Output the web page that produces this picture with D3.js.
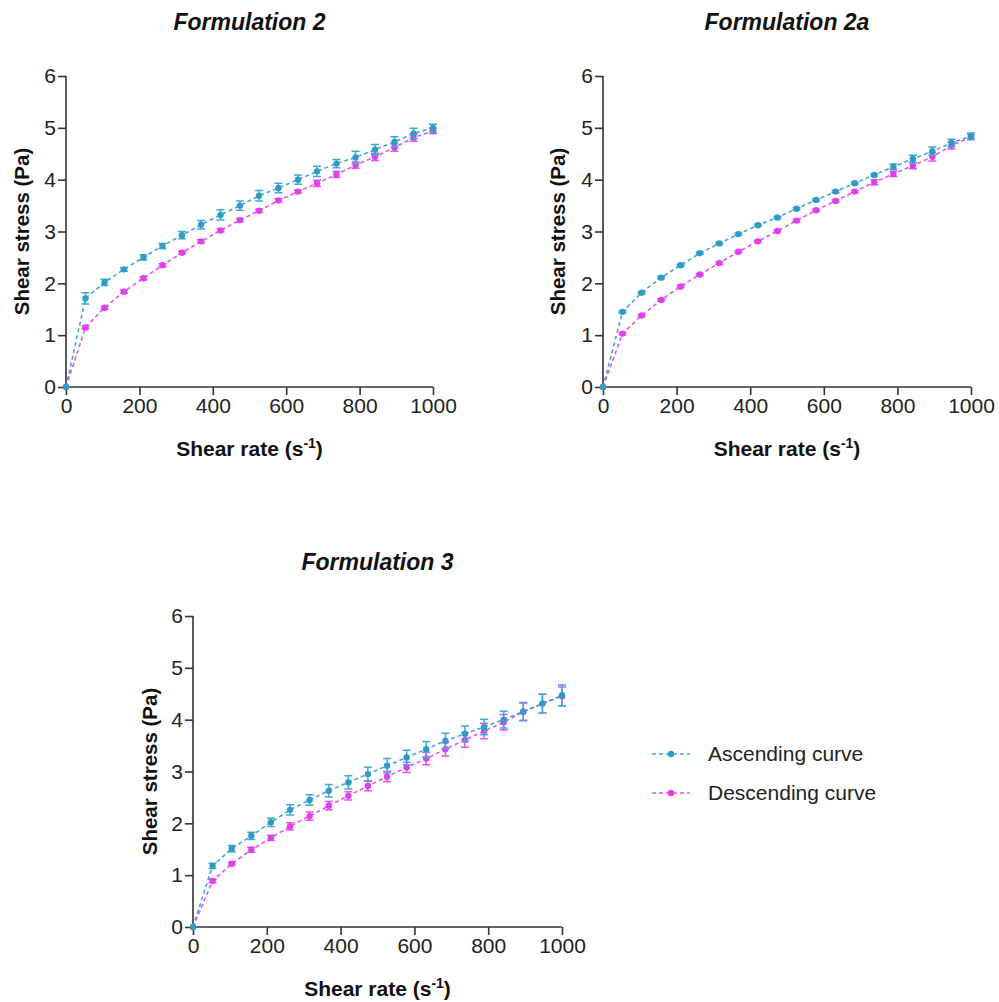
<!DOCTYPE html>
<html><head><meta charset="utf-8">
<script src="https://cdn.jsdelivr.net/npm/d3@7"></script>
<style>body{margin:0;background:#fff}svg{display:block}</style>
</head><body>
<svg id="c" width="999" height="1002"></svg>
<script>
const shearRate = [0,53,105,158,211,263,316,368,421,474,526,579,632,684,737,789,842,895,947,1000];
const xTicks = [0,200,400,600,800,1000];
const yTicks = [0,1,2,3,4,5,6];
const seriesNames = ["Ascending curve","Descending curve"];

const f2Asc  = [0,1.71,2.02,2.27,2.50,2.72,2.93,3.13,3.32,3.50,3.69,3.84,4.00,4.16,4.31,4.43,4.58,4.73,4.89,5.00];
const f2AscErr=[0,0.11,0.06,0.03,0.05,0.05,0.07,0.08,0.10,0.09,0.10,0.09,0.09,0.10,0.08,0.12,0.10,0.10,0.10,0.07];
const f2Desc = [0,1.15,1.53,1.84,2.10,2.35,2.59,2.81,3.02,3.22,3.40,3.60,3.77,3.93,4.10,4.28,4.44,4.62,4.81,4.94];
const f2DescErr=[0,0.03,0.03,0.03,0.03,0.03,0.03,0.03,0.03,0.03,0.03,0.03,0.03,0.06,0.06,0.06,0.07,0.07,0.07,0.05];

const f2aAsc = [0,1.45,1.82,2.11,2.35,2.58,2.77,2.95,3.12,3.27,3.44,3.61,3.77,3.93,4.09,4.25,4.40,4.55,4.71,4.84];
const f2aAscErr=[0,0.02,0.02,0.02,0.02,0.02,0.02,0.02,0.02,0.02,0.02,0.02,0.02,0.02,0.02,0.05,0.07,0.08,0.07,0.06];
const f2aDesc= [0,1.03,1.38,1.68,1.94,2.17,2.39,2.61,2.81,3.01,3.21,3.41,3.59,3.77,3.95,4.11,4.27,4.44,4.66,4.82];
const f2aDescErr=[0,0.02,0.02,0.02,0.02,0.02,0.02,0.02,0.02,0.02,0.02,0.02,0.02,0.02,0.05,0.05,0.06,0.08,0.07,0.05];

const f3Asc  = [0,1.18,1.51,1.76,2.02,2.26,2.45,2.63,2.79,2.95,3.11,3.27,3.43,3.59,3.73,3.86,4.00,4.16,4.31,4.47];
const f3AscErr=[0,0.05,0.06,0.07,0.08,0.10,0.10,0.12,0.13,0.13,0.14,0.14,0.15,0.15,0.15,0.15,0.16,0.17,0.18,0.20];
const f3Desc = [0,0.89,1.22,1.49,1.72,1.94,2.14,2.34,2.53,2.72,2.90,3.08,3.25,3.43,3.61,3.78,3.95,4.15,4.31,4.45];
const f3DescErr=[0,0.03,0.03,0.05,0.05,0.07,0.08,0.08,0.08,0.09,0.10,0.10,0.12,0.13,0.14,0.15,0.15,0.17,0.18,0.18];

const panels = [
  {title:"Formulation 2",  asc:f2Asc, ascErr:f2AscErr, desc:f2Desc, descErr:f2DescErr, x0:66, x1:433, y0:387, y1:76, titleY:30, xlabY:456, ylabX:22},
  {title:"Formulation 2a", asc:f2aAsc, ascErr:f2aAscErr, desc:f2aDesc, descErr:f2aDescErr, x0:603, x1:971, y0:387, y1:76, titleY:30, xlabY:456, ylabX:558},
  {title:"Formulation 3",  asc:f3Asc, ascErr:f3AscErr, desc:f3Desc, descErr:f3DescErr, x0:193, x1:562, y0:927, y1:616, titleY:570, xlabY:996, ylabX:150}
];

const colAsc = "#2f9cc6", colAscLine="#41aad3";
const colDesc = "#e03fe9", colDescLine="#e355ec";
const font = "'Liberation Sans', Arial, Helvetica, sans-serif";
const axisCol = "#333";

const svg = d3.select("#c");

panels.forEach(p => {
  const x = d3.scaleLinear().domain([0,1000]).range([p.x0,p.x1]);
  const y = d3.scaleLinear().domain([0,6]).range([p.y0,p.y1]);
  const g = svg.append("g");

  const xa = g.append("g").attr("transform",`translate(0,${p.y0})`)
    .call(d3.axisBottom(x).tickValues(xTicks).tickSize(8).tickPadding(3).tickFormat(d3.format("d")));
  const ya = g.append("g").attr("transform",`translate(${p.x0},0)`)
    .call(d3.axisLeft(y).tickValues(yTicks).tickSize(8).tickPadding(2).tickFormat(d3.format("d")));
  [xa,ya].forEach(a=>{
    a.select(".domain").attr("stroke",axisCol).attr("stroke-width",1.6).attr("d", a===xa ? `M${p.x0},0H${p.x1}` : `M0,${p.y0}V${p.y1}`);
    a.selectAll(".tick line").attr("stroke",axisCol).attr("stroke-width",1.6);
    a.selectAll(".tick text").attr("fill","#222").style("font-family",font).style("font-size","21px");
  });

  const drawSeries = (vals, errs, col, lineCol) => {
    const pts = shearRate.map((r,i)=>({r, v:vals[i], e:errs[i]}));
    const eb = g.append("g").attr("stroke",lineCol).attr("stroke-width",1.5).attr("fill","none");
    pts.filter(d=>d.e>0).forEach(d=>{
      const cx = x(d.r), ylo=y(d.v-d.e), yhi=y(d.v+d.e);
      eb.append("path").attr("d",`M${cx},${ylo}V${yhi}M${cx-4},${yhi}H${cx+4}M${cx-4},${ylo}H${cx+4}`);
    });
    g.append("path").datum(pts)
      .attr("d", d3.line().x(d=>x(d.r)).y(d=>y(d.v)))
      .attr("fill","none").attr("stroke",lineCol).attr("stroke-width",1.6).attr("stroke-dasharray","4,3");
    g.append("g").selectAll("circle").data(pts).join("circle")
      .attr("cx",d=>x(d.r)).attr("cy",d=>y(d.v)).attr("r",3.2).attr("fill",col);
  };
  drawSeries(p.desc, p.descErr, colDesc, colDescLine);
  drawSeries(p.asc, p.ascErr, colAsc, colAscLine);

  g.append("text").attr("x",(p.x0+p.x1)/2).attr("y",p.titleY).attr("text-anchor","middle")
    .style("font-family",font).style("font-size","23px").style("font-weight","bold").style("font-style","italic")
    .attr("fill","#111").text(p.title);
  const xl = g.append("text").attr("x",(p.x0+p.x1)/2).attr("y",p.xlabY).attr("text-anchor","middle")
    .style("font-family",font).style("font-size","21px").style("font-weight","bold").attr("fill","#111");
  xl.append("tspan").text("Shear rate (s");
  xl.append("tspan").attr("dy",-8).style("font-size","14px").text("-1");
  xl.append("tspan").attr("dy",8).text(")");
  g.append("text").attr("transform",`translate(${p.ylabX+7},${(p.y0+p.y1)/2}) rotate(-90)`)
    .attr("text-anchor","middle")
    .style("font-family",font).style("font-size","20.5px").style("font-weight","bold").attr("fill","#111")
    .text("Shear stress (Pa)");
});

const leg = svg.append("g");
[[seriesNames[0], colAsc, colAscLine, 754],[seriesNames[1], colDesc, colDescLine, 793]].forEach(([name,col,lc,ly])=>{
  leg.append("line").attr("x1",652).attr("x2",690).attr("y1",ly).attr("y2",ly)
    .attr("stroke",lc).attr("stroke-width",1.6).attr("stroke-dasharray","4,3");
  leg.append("circle").attr("cx",671).attr("cy",ly).attr("r",3.2).attr("fill",col);
  leg.append("text").attr("x",708).attr("y",ly+7).style("font-family",font).style("font-size","21px")
    .attr("fill","#222").text(name);
});
</script>
</body></html>
